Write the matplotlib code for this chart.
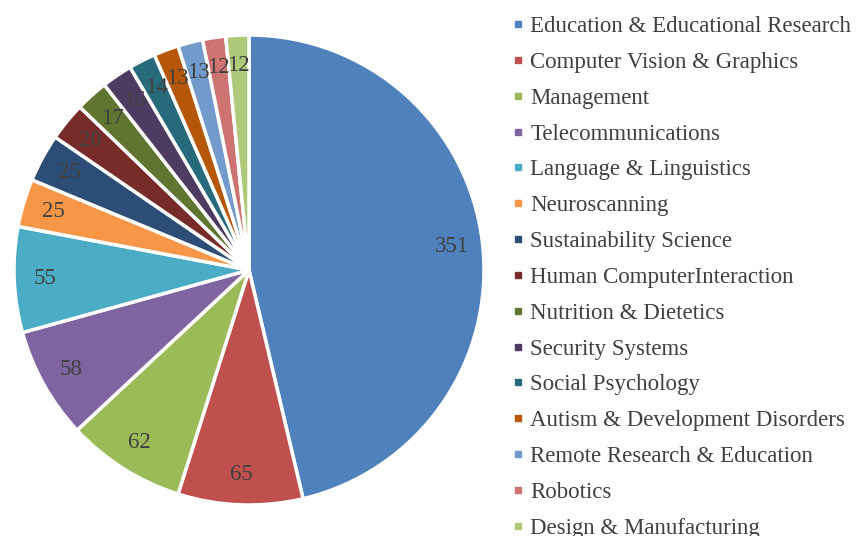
import matplotlib
matplotlib.use("Agg")
import matplotlib.pyplot as plt
from matplotlib.lines import Line2D

categories = ["Education & Educational Research", "Computer Vision & Graphics", "Management",
              "Telecommunications", "Language & Linguistics", "Neuroscanning",
              "Sustainability Science", "Human ComputerInteraction", "Nutrition & Dietetics",
              "Security Systems", "Social Psychology", "Autism & Development Disorders",
              "Remote Research & Education", "Robotics", "Design & Manufacturing"]
values = [351, 65, 62, 58, 55, 25, 25, 20, 17, 16, 14, 13, 13, 12, 12]
colors = ["#4F81BD", "#C0504D", "#9BBB59", "#8064A2", "#4BACC6", "#F79646",
          "#2C4D75", "#772C2A", "#5F7530", "#4D3B62", "#276A7C", "#B65708",
          "#729ACA", "#CD7371", "#AFC97A"]

plt.rcParams['font.family'] = ['Liberation Serif', 'DejaVu Serif']
W, H = 856, 536
fig = plt.figure(figsize=(W/100, H/100), dpi=100)
cx, cy, r = 249, 270, 235
ax = fig.add_axes([(cx - r)/W, (H - cy - r)/H, 2*r/W, 2*r/H])
total = sum(values)
wedges, texts, autotexts = ax.pie(
    values, colors=colors, startangle=90, counterclock=False,
    autopct=lambda p: f"{round(p*total/100)}", pctdistance=0.87,
    wedgeprops=dict(edgecolor="white", linewidth=2.5),
    textprops=dict(color="#404040", fontsize=16.5))
ax.set_xlim(-1, 1)
ax.set_ylim(-1, 1)
ax.set_aspect("equal")

handles = [Line2D([0], [0], marker="s", linestyle="none", markersize=5,
                  markerfacecolor=c, markeredgecolor=c) for c in colors]
fig.legend(handles, categories, loc="upper left", bbox_to_anchor=(503/W, 1 - 7/H),
           frameon=False, fontsize=16.5, handlelength=0.5, handletextpad=0.3,
           labelspacing=0.645, labelcolor="#404040", borderaxespad=0)
fig.savefig("out.png", dpi=100)
